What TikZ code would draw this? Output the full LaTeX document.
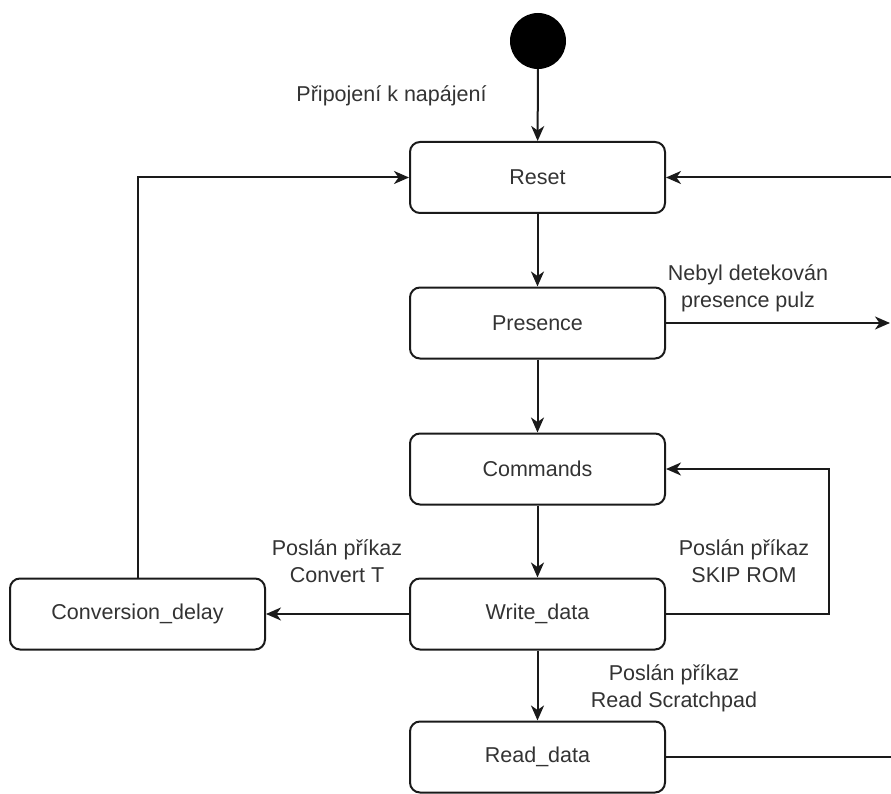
\documentclass[tikz,border=0pt]{standalone}
\usepackage{fontspec}
\setmainfont{Liberation Sans}
\usetikzlibrary{arrows.meta}
\definecolor{txt}{HTML}{333333}
\definecolor{ln}{HTML}{1A1A1A}
\begin{document}
\begin{tikzpicture}[x=1pt,y=-1pt,
  font=\fontsize{21.5}{27}\selectfont,
  state/.style={draw=ln,line width=2pt,rounded corners=10pt,minimum width=255pt,minimum height=71pt,text=txt,inner sep=0pt},
  lbl/.style={text=txt,align=center,inner sep=0pt},
  arr/.style={draw=ln,line width=2pt,-{Stealth[length=15pt,width=13pt,inset=4.5pt]}},
  ln/.style={draw=ln,line width=2pt}]
\useasboundingbox (0,0) rectangle (891,794);

% states
\node[fill=black,circle,minimum size=56pt,inner sep=0pt] (init) at (538,41) {};
\node[state] (reset) at (537.5,177.5) {Reset};
\node[state] (presence) at (537.5,323) {Presence};
\node[state] (commands) at (537.5,469) {Commands};
\node[state] (write) at (537.5,614) {Write\_data};
\node[state] (read) at (537.5,757) {Read\_data};
\node[state] (conv) at (137.5,614) {Conversion\_delay};

% free ends at the right margin
\coordinate (rin) at (891,177.5);
\coordinate (pout) at (890,323);
\coordinate (rout) at (891,757);

% main sequence
\draw[arr] (init) -- (reset);
\draw[arr] (reset) -- (presence);
\draw[arr] (presence) -- (commands);
\draw[arr] (commands) -- (write);
\draw[arr] (write) -- (read);
\draw[arr] (write) -- (conv);

% loops
\draw[arr] (conv.north) |- (reset.west);
\draw[arr] (write.east) -- ++(163,0) |- (commands.east);
\draw[arr] (rin) -- (reset.east);
\draw[arr] (presence.east) -- (pout);
\draw[ln] (read.east) -- (rout);

% transition labels
\node[lbl] (l1) at (391.5,96) {Připojení k napájení};
\node[lbl] (l2) at (748,288) {Nebyl detekován\\presence pulz};
\node[lbl] (l3) at (337,561) {Poslán příkaz\\Convert T};
\node[lbl] (l4) at (744,561) {Poslán příkaz\\SKIP ROM};
\node[lbl] (l5) at (674,688) {Poslán příkaz\\Read Scratchpad};
\end{tikzpicture}
\end{document}
